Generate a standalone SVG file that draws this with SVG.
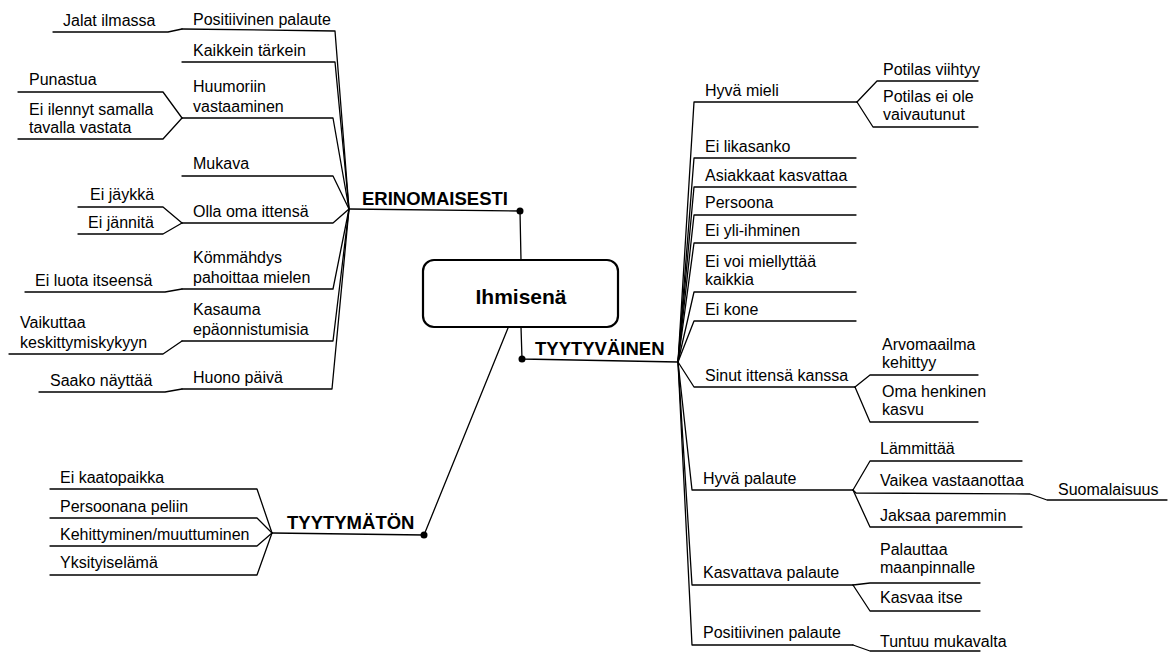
<svg xmlns="http://www.w3.org/2000/svg" width="1175" height="653" viewBox="0 0 1175 653">
  <style>
    text { font-family: "Liberation Sans", Arial, sans-serif; font-size: 16px; fill: #000; }
    .head { font-weight: bold; font-size: 18.5px; }
    .core { font-weight: bold; font-size: 21px; }
    .ln { fill: none; stroke: #000; stroke-width: 1.3; stroke-linejoin: round; stroke-linecap: round; }
    .dot { fill: #000; }
  </style>
  <rect width="1175" height="653" fill="#fff"/>

  <!-- connectors -->
  <g id="connectors" class="ln">
    <!-- centre to main branches -->
    <path d="M521 260 L520 211 L349 209"/>
    <path d="M521 327 L522 359 L678 362"/>
    <path d="M508 328 L424 535 L272 533"/>

    <!-- ERINOMAISESTI branches -->
    <path d="M349 209 L335 31 L182 29"/>
    <path d="M349 209 L335 62 L182 62"/>
    <path d="M349 209 L333 118 L182 118"/>
    <path d="M349 209 L333 176 L182 176"/>
    <path d="M349 209 L333 223 L182 223"/>
    <path d="M349 209 L333 289 L182 289"/>
    <path d="M349 209 L333 341 L182 341"/>
    <path d="M349 209 L332 389 L182 389"/>
    <!-- ERINOMAISESTI sub-branches -->
    <path d="M182 29 L168 32 L53 32"/>
    <path d="M182 118 L163 92 L18 92"/>
    <path d="M182 118 L163 139 L18 139"/>
    <path d="M182 223 L163 207 L78 207"/>
    <path d="M182 223 L163 234 L78 234"/>
    <path d="M182 289 L165 292 L25 292"/>
    <path d="M182 341 L163 354 L9 354"/>
    <path d="M182 389 L165 392 L39 392"/>

    <!-- TYYTYVAINEN branches -->
    <path d="M678 362 L694 102 L857 102"/>
    <path d="M678 362 L694 158 L856 158"/>
    <path d="M678 362 L694 187 L856 187"/>
    <path d="M678 362 L694 215 L856 215"/>
    <path d="M678 362 L694 243 L856 243"/>
    <path d="M678 362 L694 292 L856 292"/>
    <path d="M678 362 L694 321 L856 321"/>
    <path d="M678 362 L694 387 L855 387"/>
    <path d="M678 362 L692 490 L853 490"/>
    <path d="M678 362 L692 585 L853 585"/>
    <path d="M678 362 L692 645 L853 645"/>
    <!-- TYYTYVAINEN sub-branches -->
    <path d="M857 102 L877 81 L978 81"/>
    <path d="M857 102 L873 127 L978 127"/>
    <path d="M855 387 L870 375 L978 375"/>
    <path d="M855 387 L870 422 L978 422"/>
    <path d="M853 490 L870 461 L1022 461"/>
    <path d="M853 490 L856 493 L1030 494 L1047 500 L1167 500"/>
    <path d="M853 490 L870 527 L1022 527"/>
    <path d="M853 585 L870 583 L980 583"/>
    <path d="M853 585 L870 611 L980 611"/>
    <path d="M853 645 L870 651 L980 651"/>

    <!-- TYYTYMATON branches -->
    <path d="M272 533 L257 489 L50 489"/>
    <path d="M272 533 L257 518 L50 518"/>
    <path d="M272 533 L257 546 L50 546"/>
    <path d="M272 533 L257 575 L50 575"/>
  </g>

  <!-- junction dots -->
  <g id="junctions">
    <circle class="dot" cx="520" cy="211" r="3.5"/>
    <circle class="dot" cx="522" cy="359" r="3.5"/>
    <circle class="dot" cx="424" cy="535" r="3.5"/>
  </g>

  <!-- central topic -->
  <g id="node-ihmisena">
    <rect x="423" y="260" width="195" height="67" rx="11" ry="11" fill="#fff" stroke="#000" stroke-width="2.2"/>
    <text class="core" x="521" y="304" text-anchor="middle">Ihmisenä</text>
  </g>

  <!-- main branch titles -->
  <g id="node-erinomaisesti"><text class="head" x="362" y="205">ERINOMAISESTI</text></g>
  <g id="node-tyytyvainen"><text class="head" x="535" y="355">TYYTYVÄINEN</text></g>
  <g id="node-tyytymaton"><text class="head" x="287" y="529">TYYTYMÄTÖN</text></g>

  <!-- ERINOMAISESTI topics -->
  <g id="node-e1"><text x="193" y="25">Positiivinen palaute</text></g>
  <g id="node-e1a"><text x="63" y="26">Jalat ilmassa</text></g>
  <g id="node-e2"><text x="193" y="56">Kaikkein tärkein</text></g>
  <g id="node-e3"><text x="193" y="92">Huumoriin</text><text x="193" y="112">vastaaminen</text></g>
  <g id="node-e3a"><text x="29" y="85">Punastua</text></g>
  <g id="node-e3b"><text x="29" y="115">Ei ilennyt samalla</text><text x="29" y="133">tavalla vastata</text></g>
  <g id="node-e4"><text x="193" y="169">Mukava</text></g>
  <g id="node-e5"><text x="193" y="217">Olla oma ittensä</text></g>
  <g id="node-e5a"><text x="90" y="200">Ei jäykkä</text></g>
  <g id="node-e5b"><text x="88" y="228">Ei jännitä</text></g>
  <g id="node-e6"><text x="193" y="263">Kömmähdys</text><text x="193" y="283">pahoittaa mielen</text></g>
  <g id="node-e6a"><text x="35" y="286">Ei luota itseensä</text></g>
  <g id="node-e7"><text x="193" y="315">Kasauma</text><text x="193" y="335">epäonnistumisia</text></g>
  <g id="node-e7a"><text x="20" y="328">Vaikuttaa</text><text x="20" y="348">keskittymiskykyyn</text></g>
  <g id="node-e8"><text x="193" y="383">Huono päivä</text></g>
  <g id="node-e8a"><text x="50" y="386">Saako näyttää</text></g>

  <!-- TYYTYVAINEN topics -->
  <g id="node-t1"><text x="705" y="96">Hyvä mieli</text></g>
  <g id="node-t1a"><text x="883" y="75">Potilas viihtyy</text></g>
  <g id="node-t1b"><text x="883" y="102">Potilas ei ole</text><text x="883" y="120">vaivautunut</text></g>
  <g id="node-t2"><text x="705" y="152">Ei likasanko</text></g>
  <g id="node-t3"><text x="705" y="181">Asiakkaat kasvattaa</text></g>
  <g id="node-t4"><text x="705" y="208">Persoona</text></g>
  <g id="node-t5"><text x="705" y="236">Ei yli-ihminen</text></g>
  <g id="node-t6"><text x="705" y="267">Ei voi miellyttää</text><text x="705" y="285">kaikkia</text></g>
  <g id="node-t7"><text x="705" y="315">Ei kone</text></g>
  <g id="node-t8"><text x="705" y="381">Sinut ittensä kanssa</text></g>
  <g id="node-t8a"><text x="882" y="350">Arvomaailma</text><text x="882" y="368">kehittyy</text></g>
  <g id="node-t8b"><text x="882" y="397">Oma henkinen</text><text x="882" y="415">kasvu</text></g>
  <g id="node-t9"><text x="703" y="484">Hyvä palaute</text></g>
  <g id="node-t9a"><text x="880" y="454">Lämmittää</text></g>
  <g id="node-t9b"><text x="880" y="486">Vaikea vastaanottaa</text></g>
  <g id="node-t9b1"><text x="1058" y="495">Suomalaisuus</text></g>
  <g id="node-t9c"><text x="880" y="521">Jaksaa paremmin</text></g>
  <g id="node-t10"><text x="703" y="578">Kasvattava palaute</text></g>
  <g id="node-t10a"><text x="880" y="555">Palauttaa</text><text x="880" y="573">maanpinnalle</text></g>
  <g id="node-t10b"><text x="880" y="603">Kasvaa itse</text></g>
  <g id="node-t11"><text x="703" y="638">Positiivinen palaute</text></g>
  <g id="node-t11a"><text x="880" y="647">Tuntuu mukavalta</text></g>

  <!-- TYYTYMATON topics -->
  <g id="node-u1"><text x="60" y="483">Ei kaatopaikka</text></g>
  <g id="node-u2"><text x="60" y="512">Persoonana peliin</text></g>
  <g id="node-u3"><text x="60" y="540">Kehittyminen/muuttuminen</text></g>
  <g id="node-u4"><text x="60" y="568">Yksityiselämä</text></g>
</svg>
